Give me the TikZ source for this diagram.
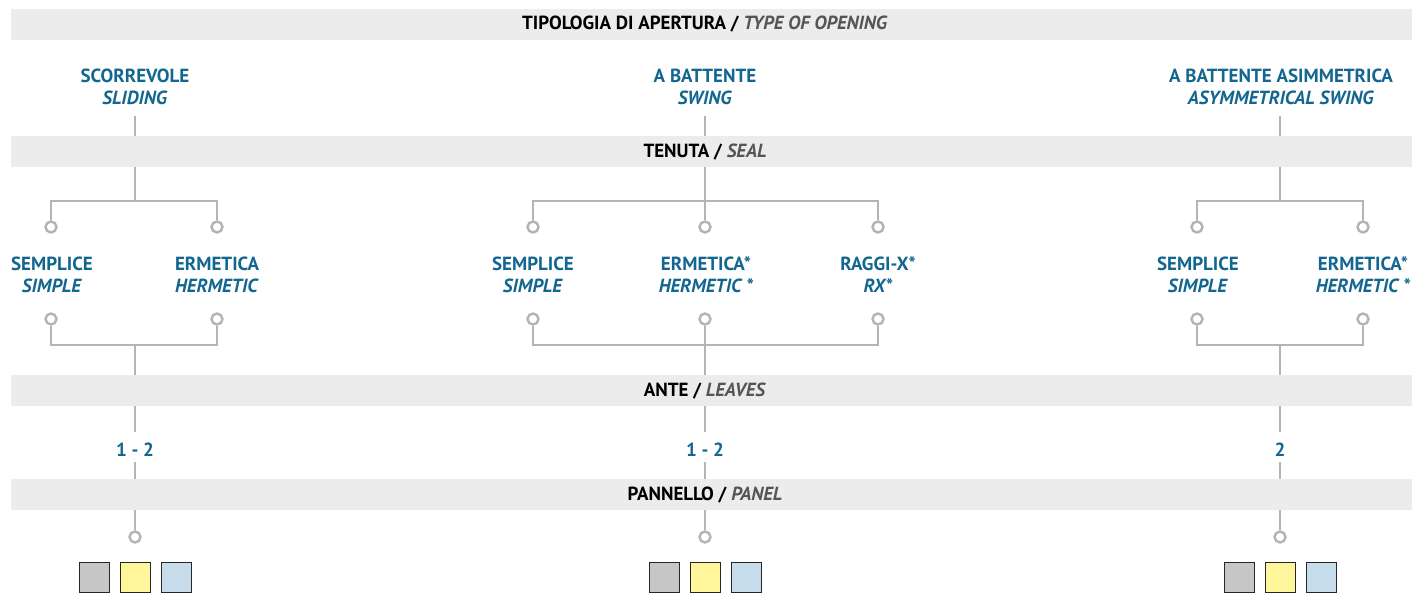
\documentclass[tikz,border=0pt]{standalone}
\usepackage{fontspec}
\setmainfont{PT Sans}
\definecolor{bandgray}{HTML}{ECECEC}
\definecolor{linegray}{HTML}{B4B4B4}
\definecolor{tblue}{HTML}{13668F}
\definecolor{itgray}{HTML}{555555}
\definecolor{sqgray}{HTML}{C6C6C6}
\definecolor{sqyellow}{HTML}{FFF59B}
\definecolor{sqblue}{HTML}{C6DCEA}
\begin{document}
\begin{tikzpicture}[x=1pt,y=-1pt,
  conn/.style={draw=linegray,line width=2.8pt},
  dot/.style={circle,draw=linegray,fill=white,line width=2.4pt,minimum size=11pt,inner sep=0pt},
  band/.style={fill=bandgray,draw=none,minimum width=1401pt,minimum height=31pt,inner sep=0pt,anchor=west},
  head/.style={font=\fontsize{19}{22}\selectfont\bfseries,inner sep=0pt},
  lbl/.style={text=tblue,align=center,font=\fontsize{19}{22}\selectfont\bfseries,inner sep=0pt},
  num/.style={text=tblue,font=\fontsize{19}{22}\selectfont\bfseries,inner sep=0pt},
  sq/.style={draw=black!85,line width=0.9pt,minimum size=30pt,inner sep=0pt}]
\useasboundingbox (0,0) rectangle (1412,594);
\fill[white] (0,0) rectangle (1412,594);
% ---- titles
\node[lbl] (tA) at (135,87) {SCORREVOLE\\\textit{SLIDING}};
\node[lbl] (tB) at (705,87) {A BATTENTE\\\textit{SWING}};
\node[lbl] (tC) at (1281,87) {A BATTENTE ASIMMETRICA\\\textit{ASYMMETRICAL SWING}};
% ---- seal labels
\node[lbl] (sA1) at (52,275) {SEMPLICE\\\textit{SIMPLE}};
\node[lbl] (sA2) at (217,275) {ERMETICA\\\textit{HERMETIC}};
\node[lbl] (sB1) at (533,275) {SEMPLICE\\\textit{SIMPLE}};
\node[lbl] (sB2) at (706,275) {ERMETICA*\\\textit{HERMETIC *}};
\node[lbl] (sB3) at (878,275) {RAGGI-X*\\\textit{RX*}};
\node[lbl] (sC1) at (1198,275) {SEMPLICE\\\textit{SIMPLE}};
\node[lbl] (sC2) at (1363,275) {ERMETICA*\\\textit{HERMETIC *}};
% ---- numbers
\node[num] (nA) at (135,450) {1 - 2};
\node[num] (nB) at (705,450) {1 - 2};
\node[num] (nC) at (1280,450) {2};
% ---- dots
\foreach \n/\x in {A1/51,A2/217,B1/533,B2/705,B3/878,C1/1197,C2/1363}{
  \node[dot] (u\n) at (\x,227) {};
  \node[dot] (l\n) at (\x,319) {};
}
\foreach \n/\x in {A/135,B/705,C/1280}{
  \node[dot] (p\n) at (\x,537) {};
  \coordinate (top\n) at (\x,116);
  \coordinate (jt\n) at (\x,201);
  \coordinate (jb\n) at (\x,345);
  \coordinate (ab\n) at (\x,432);
  \coordinate (pb\n) at (\x,462);
}
% ---- connectors
\foreach \n in {A,B,C}{
  \draw[conn] (top\n) -- (jt\n);
  \draw[conn] (jb\n) -- (ab\n);
  \draw[conn] (pb\n) -- (p\n.north);
}
\draw[conn] (uA1.north) |- (jtA) -| (uA2.north);
\draw[conn] (lA1.south) |- (jbA) -| (lA2.south);
\draw[conn] (uB1.north) |- (jtB) -| (uB3.north);
\draw[conn] (jtB) -- (uB2.north);
\draw[conn] (lB1.south) |- (jbB) -| (lB3.south);
\draw[conn] (lB2.south) -- (jbB);
\draw[conn] (uC1.north) |- (jtC) -| (uC2.north);
\draw[conn] (lC1.south) |- (jbC) -| (lC2.south);
% ---- bands
\node[band] (b1) at (11,24.5) {};
\node[band] (b2) at (11,151.5) {};
\node[band] (b3) at (11,390.5) {};
\node[band] (b4) at (11,494.5) {};
\node[head] (h1) at (705,24.5) {TIPOLOGIA DI APERTURA / \textcolor{itgray}{\textit{TYPE OF OPENING}}};
\node[head] (h2) at (705,152) {TENUTA / \textcolor{itgray}{\textit{SEAL}}};
\node[head] (h3) at (705,391) {ANTE / \textcolor{itgray}{\textit{LEAVES}}};
\node[head] (h4) at (705,495) {PANNELLO / \textcolor{itgray}{\textit{PANEL}}};
% ---- squares
\foreach \n/\x in {A/135,B/705,C/1280}{
  \node[sq,fill=sqgray] (g\n) at (\x-41,577.5) {};
  \node[sq,fill=sqyellow] (y\n) at (\x,577.5) {};
  \node[sq,fill=sqblue] (c\n) at (\x+41,577.5) {};
}
\end{tikzpicture}
\end{document}
